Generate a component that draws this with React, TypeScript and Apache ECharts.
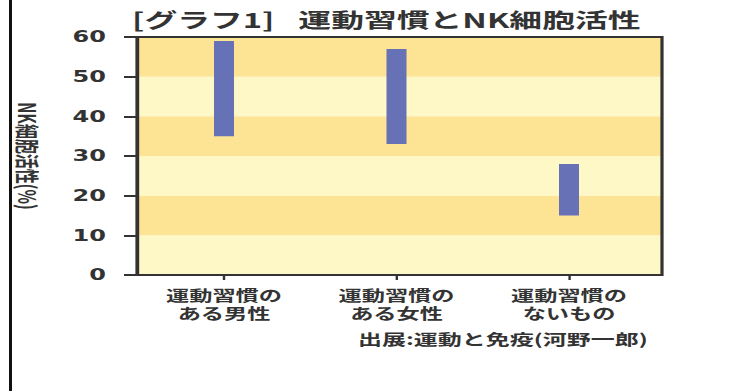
import React, { useEffect, useRef } from "react";
import * as echarts from "echarts";

// The reference image is horizontally stretched; reproduce by scaling the chart canvas.
const S = 1.6;
const W = 744 / S;
const H = 391;

const titleText = "[グラフ1]\u2002 運動習慣とNK細胞活性";
const sourceText = "出展:運動と免疫(河野一郎)";
const yAxisName = "NK細胞活性(%)";
const categories = ["運動習慣の\nある男性", "運動習慣の\nある女性", "運動習慣の\nないもの"];
const lows = [35, 33, 15];
const highs = [59, 57, 28];
const yTicks = { min: 0, max: 60, interval: 10 };

const px = (screenX: number) => screenX / S;

export default function App() {
  const ref = useRef<HTMLDivElement>(null);
  useEffect(() => {
    if (!ref.current) return;
    const chart = echarts.init(ref.current, null, { renderer: "svg" });
    const ranges = highs.map((h, i) => h - lows[i]);
    const textColor = "#333";
    const font = "'Noto Sans CJK JP', 'DejaVu Sans', sans-serif";
    chart.setOption({
      animation: false,
      backgroundColor: "#ffffff",
      title: [
        {
          text: titleText,
          left: px(124),
          top: 4,
          textStyle: { fontSize: 20.5, fontWeight: "bold", color: textColor, fontFamily: font },
        },
        {
          text: sourceText,
          right: W - px(656),
          top: 326,
          textStyle: { fontSize: 15, fontWeight: "bold", color: textColor, fontFamily: font },
        },
      ],
      graphic: [
        {
          type: "rect",
          shape: { x: px(9), y: 0, width: px(3), height: H },
          style: { fill: "#111" },
          silent: true,
        },
      ],
      grid: [
        {
          left: px(137),
          right: W - px(662),
          top: 37,
          bottom: H - 275,
          show: true,
          borderColor: "#333",
          borderWidth: 2,
          backgroundColor: "transparent",
          z: 5,
        },
        {
          left: px(137.75),
          right: W - px(655.25),
          top: 37,
          bottom: H - 275,
        },
      ],
      xAxis: [
        { type: "category", gridIndex: 0, data: categories, show: false },
        {
          type: "category",
          gridIndex: 1,
          data: categories,
          axisLine: { show: false },
          axisTick: { show: true, alignWithLabel: true, length: 5, lineStyle: { color: "#333", width: 1.5 } },
          axisLabel: {
            color: textColor,
            fontSize: 14.5,
            lineHeight: 18,
            fontWeight: "bold",
            fontFamily: font,
            margin: 11,
          },
        },
      ],
      yAxis: [
        {
          type: "value",
          gridIndex: 0,
          min: yTicks.min,
          max: yTicks.max,
          interval: yTicks.interval,
          name: yAxisName,
          nameLocation: "middle",
          nameRotate: -90,
          nameGap: px(97),
          nameTextStyle: { fontSize: 15, fontWeight: "bold", color: textColor, fontFamily: font },
          axisLine: { show: true, lineStyle: { color: "#333", width: 2 } },
          axisTick: { show: true, inside: false, length: px(13), lineStyle: { color: "#333", width: 2 } },
          axisLabel: {
            color: textColor,
            fontSize: 15,
            fontWeight: "bold",
            fontFamily: "'DejaVu Sans', sans-serif",
            margin: px(31),
          },
          splitLine: { show: false },
          splitArea: { show: true, areaStyle: { color: ["#FEF8C6", "#FDE394"] } },
        },
        {
          type: "value",
          gridIndex: 1,
          min: yTicks.min,
          max: yTicks.max,
          interval: yTicks.interval,
          show: false,
          splitLine: { show: false },
        },
      ],
      series: [
        {
          type: "bar",
          xAxisIndex: 1,
          yAxisIndex: 1,
          stack: "range",
          data: lows,
          barWidth: px(20),
          itemStyle: { color: "transparent" },
          silent: true,
        },
        {
          type: "bar",
          xAxisIndex: 1,
          yAxisIndex: 1,
          stack: "range",
          data: ranges,
          barWidth: px(20),
          itemStyle: { color: "#6671B6" },
        },
      ],
    });
    return () => chart.dispose();
  }, []);
  return (
    <div
      ref={ref}
      style={{
        position: "fixed",
        left: 0,
        top: 0,
        width: W,
        height: H,
        transform: `scaleX(${S})`,
        transformOrigin: "0 0",
        background: "#fff",
      }}
    />
  );
}
